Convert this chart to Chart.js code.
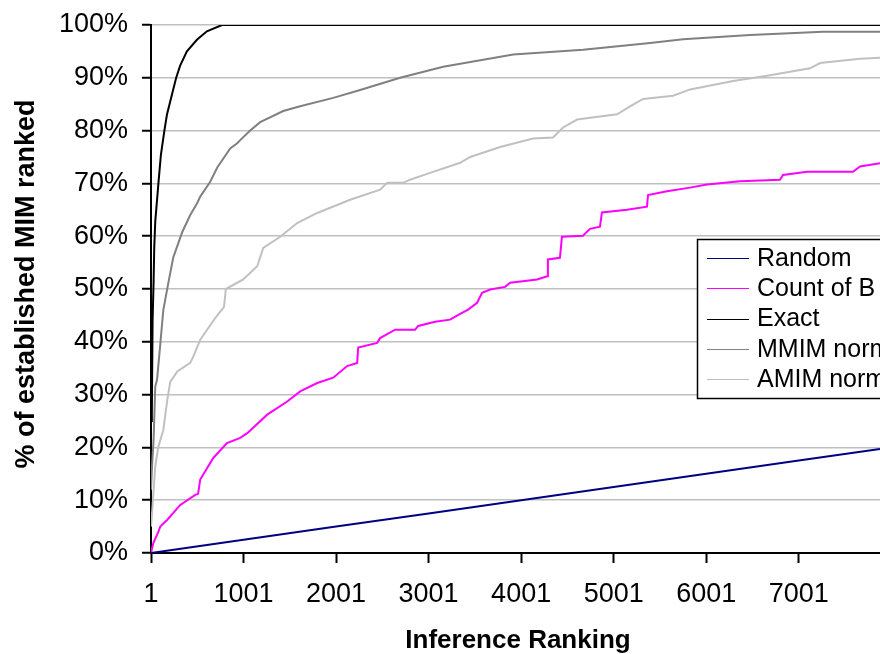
<!DOCTYPE html>
<html><head><meta charset="utf-8">
<script src="https://cdn.jsdelivr.net/npm/chart.js@4.4.0/dist/chart.umd.min.js"></script>
<style>html,body{margin:0;padding:0;background:#fff;overflow:hidden}</style>
</head><body>
<canvas id="c" width="880" height="654"></canvas>
<script>
// ---- data ----
const xTicks = [1, 1001, 2001, 3001, 4001, 5001, 6001, 7001];
const yTicks = [0, 10, 20, 30, 40, 50, 60, 70, 80, 90, 100];

const seriesLabels = ["Random", "Count of B", "Exact", "MMIM norm", "AMIM norm"];

const randomX = [1, 1001, 2001, 3001, 4001, 5001, 6001, 7001, 7879];
const randomY = [0, 2.5, 5, 7.5, 10, 12.5, 15, 17.5, 19.7];

const countX = [1, 26, 80, 101, 177, 242, 317, 479, 510, 533, 674, 822, 965, 1041, 1257, 1473, 1613, 1797, 1970, 2121, 2229, 2240, 2445, 2477, 2639, 2855, 2888, 3071, 3233, 3342, 3428, 3525, 3579, 3666, 3828, 3882, 4174, 4282, 4290, 4420, 4442, 4669, 4745, 4853, 4874, 5145, 5361, 5372, 5577, 5826, 6009, 6366, 6798, 6831, 7090, 7587, 7663, 7879];
const countY = [0, 1.9, 4, 5, 6.3, 7.6, 9.1, 11, 11.2, 13.9, 18, 20.8, 21.8, 22.7, 26.2, 28.7, 30.6, 32.2, 33.2, 35.4, 36, 38.9, 39.8, 40.7, 42.3, 42.3, 43, 43.8, 44.2, 45.3, 46.1, 47.4, 49.3, 49.9, 50.4, 51.2, 51.8, 52.4, 55.6, 55.9, 59.9, 60.1, 61.4, 61.8, 64.5, 65, 65.6, 67.8, 68.5, 69.2, 69.8, 70.4, 70.7, 71.6, 72.2, 72.2, 73.2, 73.8];

const exactX = [1, 10, 18, 29, 36, 47, 65, 83, 108, 144, 173, 227, 273, 316, 389, 497, 605, 768, 7879];
const exactY = [25, 26, 43.8, 51.4, 57.8, 62.8, 66.6, 70.4, 75.4, 79.8, 83, 86.8, 90, 92.3, 95, 97.2, 98.8, 100, 100];

const mmimX = [1, 12, 29, 47, 66, 99, 134, 191, 242, 339, 425, 501, 533, 641, 717, 857, 933, 965, 1073, 1181, 1430, 1613, 1970, 2261, 2693, 3159, 3591, 3915, 4671, 5395, 5751, 6475, 7263, 7879];
const mmimY = [12, 16.4, 21.5, 31.5, 32.8, 39.1, 46, 51.4, 56, 60.8, 64, 66.3, 67.5, 70.3, 73, 76.6, 77.6, 78.2, 80, 81.6, 83.7, 84.6, 86.2, 87.7, 90, 92.1, 93.4, 94.4, 95.3, 96.6, 97.3, 98.1, 98.7, 98.7];

const amimX = [1, 15, 47, 80, 134, 177, 209, 285, 425, 458, 533, 695, 790, 810, 998, 1149, 1214, 1397, 1581, 1797, 2153, 2477, 2553, 2726, 2801, 3017, 3342, 3450, 3774, 4130, 4346, 4454, 4606, 5038, 5178, 5319, 5643, 5827, 6291, 6659, 7123, 7231, 7663, 7879];
const amimY = [5, 8.2, 16.4, 20.1, 23.3, 29, 32.4, 34.4, 36, 37.2, 40.4, 44.5, 46.6, 50, 51.8, 54.3, 57.8, 59.9, 62.5, 64.4, 66.9, 68.8, 70.1, 70.1, 70.7, 72, 73.9, 75, 76.9, 78.5, 78.7, 80.6, 82.1, 83.1, 84.6, 86, 86.6, 87.8, 89.4, 90.4, 91.8, 92.8, 93.6, 93.8];

// ---- build ----
function pts(xs, ys) { return xs.map((x, i) => ({ x: x, y: ys[i] })); }
const FONT = "'Liberation Sans', Arial, sans-serif";

const datasets = [
  { label: seriesLabels[0], data: pts(randomX, randomY), borderColor: '#000080' },
  { label: seriesLabels[1], data: pts(countX, countY), borderColor: '#ff00ff' },
  { label: seriesLabels[2], data: pts(exactX, exactY), borderColor: '#000000' },
  { label: seriesLabels[3], data: pts(mmimX, mmimY), borderColor: '#808080' },
  { label: seriesLabels[4], data: pts(amimX, amimY), borderColor: '#c0c0c0' }
].map(d => Object.assign(d, { borderWidth: 2, pointRadius: 0, tension: 0, fill: false }));

const titlesAndLegend = {
  id: 'titlesAndLegend',
  afterDatasetsDraw(chart) {
    const c = chart.ctx;
    c.save();
    c.fillStyle = '#ffffff';
    c.fillRect(697, 239, 260, 159);
    c.strokeStyle = '#000000';
    c.lineWidth = 1.5;
    c.strokeRect(697.5, 239.5, 260, 159);
    c.font = '25px ' + FONT;
    c.textBaseline = 'middle';
    c.textAlign = 'left';
    chart.data.datasets.forEach((ds, i) => {
      const y = 258 + i * 30.3;
      c.strokeStyle = ds.borderColor;
      c.lineWidth = 1.2;
      c.beginPath(); c.moveTo(707, Math.round(y) + 0.5); c.lineTo(749, Math.round(y) + 0.5); c.stroke();
      c.fillStyle = '#000';
      c.fillText(ds.label, 757, y + 1);
    });
    c.restore();
  },
  afterDraw(chart) {
    const c = chart.ctx;
    c.save();
    c.fillStyle = '#000';
    c.font = 'bold 26px ' + FONT;
    c.textAlign = 'center';
    c.textBaseline = 'middle';
    c.fillText('Inference Ranking', 518, 641);
    c.font = 'bold 27px ' + FONT;
    c.translate(27, 284);
    c.rotate(-Math.PI / 2);
    c.fillText('% of established MIM ranked', 0, 0);
    c.restore();
  }
};

new Chart(document.getElementById('c'), {
  type: 'line',
  data: { datasets: datasets },
  plugins: [titlesAndLegend],
  options: {
    responsive: false,
    animation: false,
    layout: { padding: { top: 25, right: 0, left: 0, bottom: 0 } },
    plugins: { legend: { display: false }, tooltip: { enabled: false } },
    scales: {
      x: {
        type: 'linear', min: 1, max: 7879,
        afterBuildTicks(s) { s.ticks = xTicks.map(v => ({ value: v })); },
        afterFit(s) { s.height = 101; s.paddingLeft = 0; s.paddingRight = 0; },
        grid: { display: true, drawOnChartArea: false, drawTicks: true, tickLength: 10, tickColor: '#000', tickWidth: 2 },
        border: { display: true, color: '#000', width: 2 },
        ticks: { color: '#000', font: { family: FONT, size: 27 }, padding: 15, maxRotation: 0, autoSkip: false,
                 callback: v => String(v) }
      },
      y: {
        min: 0, max: 100,
        afterBuildTicks(s) { s.ticks = yTicks.map(v => ({ value: v })); },
        afterFit(s) { s.width = 151; s.paddingTop = 0; s.paddingBottom = 0; },
        grid: { color: '#c0c0c0', lineWidth: 1.5, tickColor: '#000', tickLength: 9, tickWidth: 2 },
        border: { display: true, color: '#000', width: 2 },
        ticks: { color: '#000', font: { family: FONT, size: 27 }, padding: 14, autoSkip: false,
                 callback: v => v + '%' }
      }
    }
  }
});
</script>
</body></html>
